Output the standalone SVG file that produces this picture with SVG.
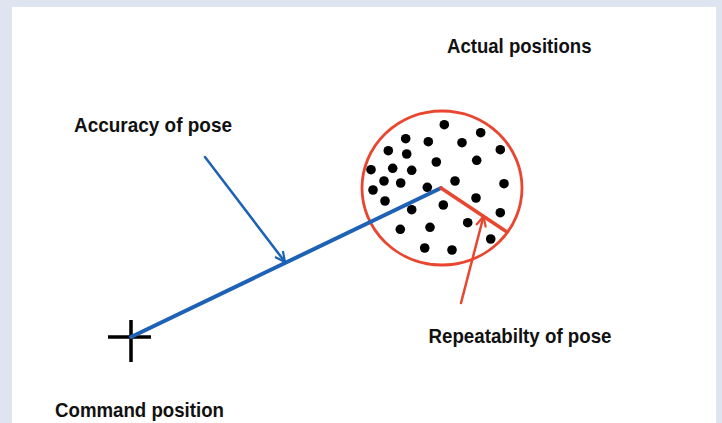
<svg xmlns="http://www.w3.org/2000/svg" width="722" height="423" viewBox="0 0 722 423">
  <style>
    .lbl { font-family: "Liberation Sans", Arial, sans-serif; font-weight: bold; font-size: 21px; fill: #111; }
    .dot { fill: #000; }
    .blue { stroke: #1d62b5; fill: none; stroke-linecap: round; }
    .red { stroke: #e8462f; fill: none; stroke-linecap: round; }
  </style>
  <defs>
    <marker id="arrBlue" viewBox="0 0 12 12" refX="11" refY="6" markerWidth="12" markerHeight="12" markerUnits="userSpaceOnUse" orient="auto">
      <path d="M1,1 L11,6 L1,11" fill="none" stroke="#1d62b5" stroke-width="2.2"/>
    </marker>
    <marker id="arrRed" viewBox="0 0 12 12" refX="11" refY="6" markerWidth="12" markerHeight="12" markerUnits="userSpaceOnUse" orient="auto">
      <path d="M1,1 L11,6 L1,11" fill="none" stroke="#e8462f" stroke-width="2.2"/>
    </marker>
  </defs>
  <rect x="0" y="0" width="722" height="423" fill="#dfe4f1"/>
  <rect x="12" y="7" width="704" height="416" fill="#ffffff"/>

  <g id="actual-positions">
    <ellipse cx="442" cy="188" rx="80" ry="77" fill="none" stroke="#e8462f" stroke-width="2.8"/>
    <g>
      <circle class="dot" cx="444.3" cy="124.7" r="4.8"/>
      <circle class="dot" cx="480.7" cy="132.7" r="4.8"/>
      <circle class="dot" cx="405.7" cy="138.7" r="4.8"/>
      <circle class="dot" cx="428.3" cy="141.7" r="4.8"/>
      <circle class="dot" cx="462" cy="142.7" r="4.8"/>
      <circle class="dot" cx="388.3" cy="150.7" r="4.8"/>
      <circle class="dot" cx="406.7" cy="154" r="4.8"/>
      <circle class="dot" cx="500.3" cy="149.7" r="4.8"/>
      <circle class="dot" cx="436.3" cy="162" r="4.8"/>
      <circle class="dot" cx="476.7" cy="160.3" r="4.8"/>
      <circle class="dot" cx="371" cy="169.7" r="4.8"/>
      <circle class="dot" cx="392.7" cy="168.3" r="4.8"/>
      <circle class="dot" cx="411.7" cy="170.3" r="4.8"/>
      <circle class="dot" cx="384" cy="181" r="4.8"/>
      <circle class="dot" cx="400.7" cy="183" r="4.8"/>
      <circle class="dot" cx="455" cy="181" r="4.8"/>
      <circle class="dot" cx="504" cy="183.7" r="4.8"/>
      <circle class="dot" cx="373" cy="190" r="4.8"/>
      <circle class="dot" cx="427.3" cy="187.3" r="4.8"/>
      <circle class="dot" cx="385" cy="201" r="4.8"/>
      <circle class="dot" cx="476" cy="198" r="4.8"/>
      <circle class="dot" cx="443.3" cy="205" r="4.8"/>
      <circle class="dot" cx="411.7" cy="209.7" r="4.8"/>
      <circle class="dot" cx="500.3" cy="212.7" r="4.8"/>
      <circle class="dot" cx="467.7" cy="222.7" r="4.8"/>
      <circle class="dot" cx="400.3" cy="229.3" r="4.8"/>
      <circle class="dot" cx="430" cy="227.3" r="4.8"/>
      <circle class="dot" cx="490.7" cy="239" r="4.8"/>
      <circle class="dot" cx="424.7" cy="248" r="4.8"/>
      <circle class="dot" cx="452" cy="250" r="4.8"/>
    </g>
  </g>

  <g id="command-position">
    <path d="M108,337 H151 M131,320 V362" stroke="#000" stroke-width="3.5" fill="none"/>
  </g>

  <g id="connectors">
    <line class="blue" x1="131" y1="337" x2="441" y2="188" stroke-width="4"/>
    <line class="red" x1="441" y1="188" x2="507" y2="232" stroke-width="3.5"/>
    <line class="blue" x1="205" y1="157" x2="285" y2="262" stroke-width="2.5" marker-end="url(#arrBlue)"/>
    <line class="red" x1="461" y1="303" x2="483.5" y2="216.5" stroke-width="2.5" marker-end="url(#arrRed)"/>
  </g>

  <g id="labels">
    <text class="lbl" x="447" y="52.7" textLength="144.5" lengthAdjust="spacingAndGlyphs">Actual positions</text>
    <text class="lbl" x="74" y="132" textLength="158" lengthAdjust="spacingAndGlyphs">Accuracy of pose</text>
    <text class="lbl" x="428.5" y="342.7" textLength="183" lengthAdjust="spacingAndGlyphs">Repeatabilty of pose</text>
    <text class="lbl" x="55" y="417.3" textLength="169" lengthAdjust="spacingAndGlyphs">Command position</text>
  </g>
</svg>
